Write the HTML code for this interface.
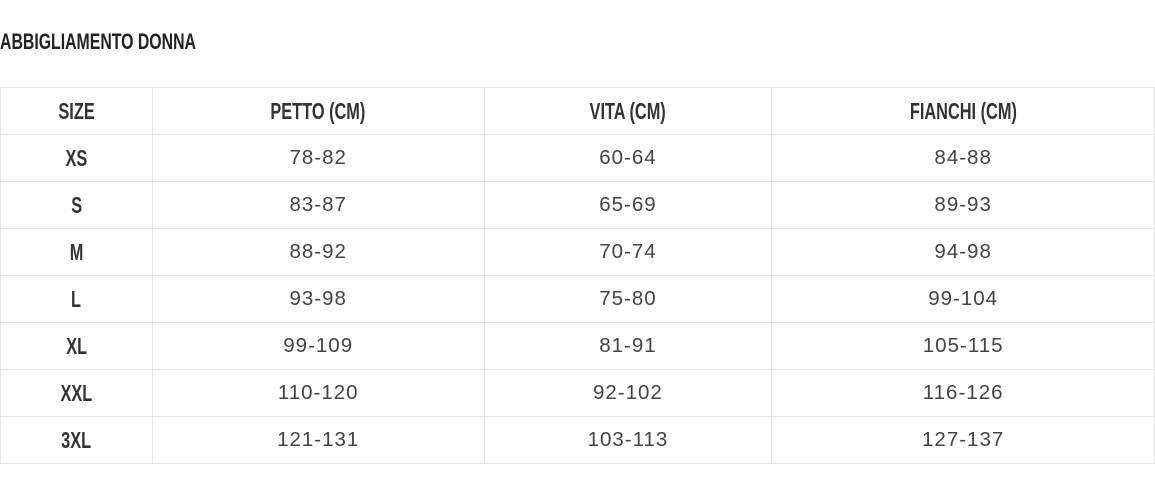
<!DOCTYPE html>
<html><head><meta charset="utf-8"><style>
body{margin:0;width:1155px;height:489px;background:#fff;position:relative;overflow:hidden;font-family:"Liberation Sans",sans-serif;color:#333}
.t{position:absolute;left:0;top:29px;font-size:22px;font-weight:bold;transform:scaleX(0.72);transform-origin:left top;white-space:nowrap;color:#222}
table{position:absolute;left:0;top:87px;border-collapse:collapse;table-layout:fixed}
td{border:1px solid #e6e6e6;height:46px;padding:0;text-align:center;vertical-align:middle;font-size:20.5px;letter-spacing:1px;color:#444}
.c{display:inline-block;transform:scaleX(0.71);font-size:23px;font-weight:bold;letter-spacing:0;color:#333;white-space:nowrap}
</style></head><body>
<div class="t">ABBIGLIAMENTO DONNA</div>
<table>
<colgroup><col style="width:152px"><col style="width:332px"><col style="width:288px"><col style="width:383px"></colgroup>
<tr><td><span class="c">SIZE</span></td><td><span class="c">PETTO (CM)</span></td><td><span class="c">VITA (CM)</span></td><td><span class="c">FIANCHI (CM)</span></td></tr>
<tr><td><span class="c">XS</span></td><td>78-82</td><td>60-64</td><td>84-88</td></tr>
<tr><td><span class="c">S</span></td><td>83-87</td><td>65-69</td><td>89-93</td></tr>
<tr><td><span class="c">M</span></td><td>88-92</td><td>70-74</td><td>94-98</td></tr>
<tr><td><span class="c">L</span></td><td>93-98</td><td>75-80</td><td>99-104</td></tr>
<tr><td><span class="c">XL</span></td><td>99-109</td><td>81-91</td><td>105-115</td></tr>
<tr><td><span class="c">XXL</span></td><td>110-120</td><td>92-102</td><td>116-126</td></tr>
<tr><td><span class="c">3XL</span></td><td>121-131</td><td>103-113</td><td>127-137</td></tr>
</table>
</body></html>
